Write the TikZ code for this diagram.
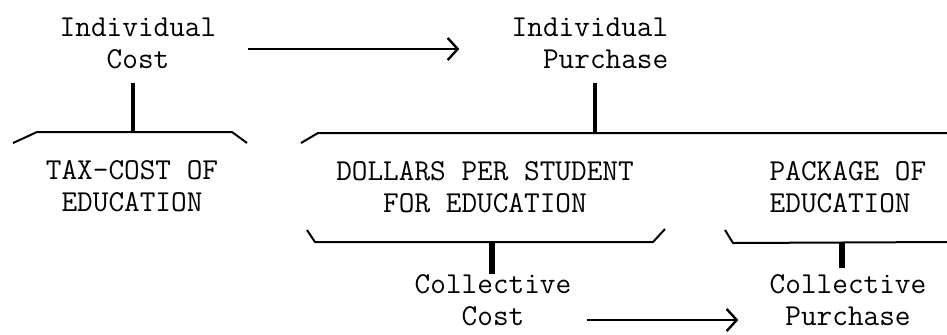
\documentclass[tikz,border=0pt]{standalone}
\usetikzlibrary{arrows.meta}
\begin{document}
\begin{tikzpicture}[x=0.5pt,y=-0.5pt,
    label/.style={inner sep=0pt,align=center,font=\fontsize{15.2pt}{16pt}\selectfont\ttfamily},
    brace/.style={line width=1pt,line join=round},
    stem/.style={line width=1.6pt},
    heavystem/.style={line width=2.6pt},
    flow/.style={line width=1pt,-{Straight Barb[length=5pt,width=11pt,line width=1.2pt]}}]
  \useasboundingbox (0,0) rectangle (947,334);
  % labels
  \node[label] (icost) at (138,43) {Individual\\Cost};
  \node[label,align=right] (ipurch) at (590,43) {Individual\\Purchase};
  \node[label] (tax) at (132,186) {TAX-COST OF\\EDUCATION};
  \node[label] (dollars) at (485,187) {DOLLARS PER STUDENT\\FOR EDUCATION};
  \node[label,align=left] (package) at (848,187) {PACKAGE OF\\EDUCATION};
  \node[label] (ccost) at (493,300) {Collective\\Cost};
  \node[label] (cpurch) at (848,300) {Collective\\Purchase};
  % braces
  \coordinate (taxtop) at (133,132);
  \coordinate (bigtop) at (595,133);
  \coordinate (dolbot) at (492,242);
  \coordinate (pkgbot) at (842,243);
  \draw[brace] (13,143) -- (37,132) -- (232,132) -- (247,143);
  \draw[brace] (301,143) -- (318,133) -- (947,133);
  \draw[brace] (307,230) -- (315,242) -- (653,242) -- (665,229);
  \draw[brace] (725,230) -- (733,243) -- (947,242);
  % stems
  \draw[stem,shorten <=7pt] (icost.south -| taxtop) -- (taxtop);
  \draw[stem,shorten <=7pt] (ipurch.south -| bigtop) -- (bigtop);
  \draw[heavystem] (dolbot) -- (dolbot |- ccost.north);
  \draw[heavystem,shorten >=3pt] (pkgbot) -- (pkgbot |- cpurch.north);
  % arrows
  \draw[flow,shorten <=15.5pt,shorten >=26pt] ([yshift=-3pt]icost.east) -- ([yshift=-3pt]icost.east -| ipurch.west);
  \draw[flow,shorten <=7.5pt,shorten >=15.5pt] ([yshift=-10pt]ccost.east) -- ([yshift=-10pt]ccost.east -| cpurch.west);
\end{tikzpicture}
\end{document}
